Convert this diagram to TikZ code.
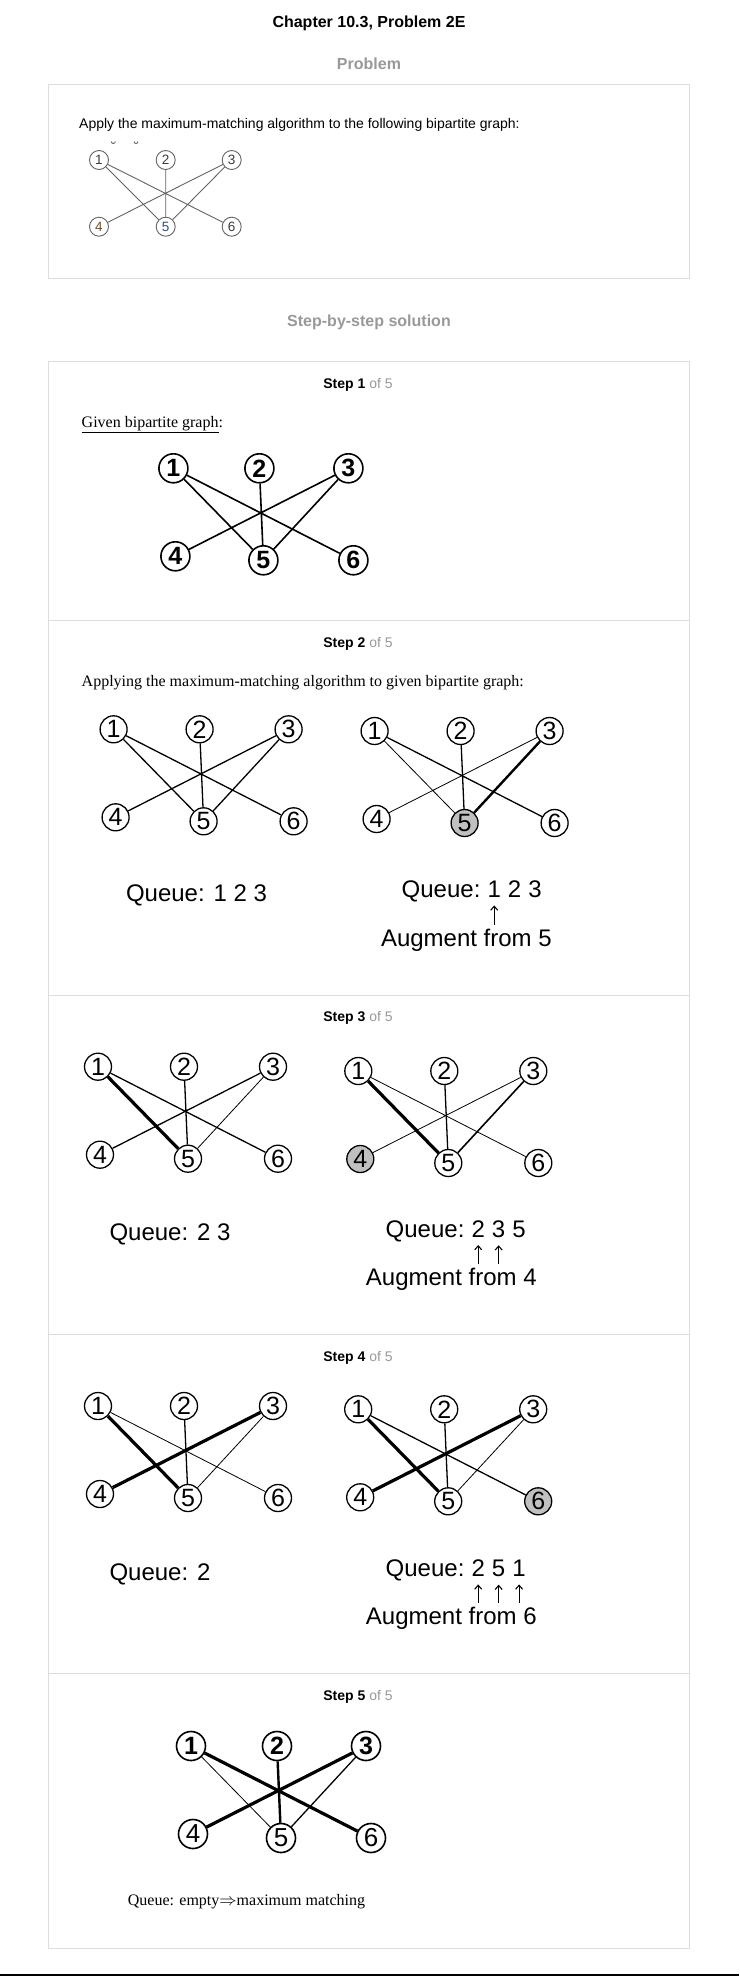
\documentclass[tikz,border=0pt]{standalone}
\usepackage{fontspec}
\setmainfont{Liberation Serif}
\setsansfont{Liberation Sans}
\usepackage{tikz}
\usetikzlibrary{positioning, arrows.meta, calc}

\definecolor{framegray}{RGB}{221,221,221}
\definecolor{headgray}{RGB}{153,153,153}
\definecolor{markgray}{RGB}{192,192,192}
\definecolor{edgegray}{RGB}{100,100,100}
\definecolor{numgray}{RGB}{60,60,60}
\definecolor{numbrown}{RGB}{110,80,40}
\definecolor{numblue}{RGB}{40,80,130}

% six vertices of one graph: top row 1 2 3, bottom row 4 5 6
% #1 prefix, #2 #3 position of vertex 1, #4 top style, #5 bottom style, #6 grey vertex
\newcommand{\placegraph}[6]{%
	\foreach \n/\dx/\dy in {1/0/0, 2/86/0, 3/175/0, 4/2/88, 5/90/92, 6/180/92}{%
		\ifnum\n<4 \tikzset{vstyle/.style={#4}}\else\tikzset{vstyle/.style={#5}}\fi
		\ifnum\n=#6 \tikzset{vmark/.style={fill=markgray}}\else\tikzset{vmark/.style={fill=white}}\fi
		\node[vstyle, vmark] (#1_\n) at (#2+\dx,#3+\dy) {\n};
	}%
}

\begin{document}
\begin{tikzpicture}[
				x=1pt, y=-1pt,
				node distance=6.7pt,
				% --- STYLES ---
				frame/.style={draw=framegray, line width=1.2pt},
				heading/.style={font=\sffamily\bfseries\fontsize{16}{19}\selectfont, anchor=base, inner sep=0pt},
				stephead/.style={font=\sffamily\fontsize{14}{17}\selectfont, anchor=base, inner sep=0pt},
				bodytext/.style={font=\rmfamily\fontsize{16}{19}\selectfont, anchor=base west, inner sep=0pt},
				queue/.style={font=\sffamily\fontsize{24}{28}\selectfont, inner sep=0pt},
				smallvtx/.style={circle, draw=edgegray, line width=0.9pt, inner sep=0pt, minimum size=19pt, font=\sffamily\fontsize{13.5}{13.5}\selectfont},
				vtx/.style={circle, draw, fill=white, line width=1.3pt, inner sep=0pt, minimum size=27pt, font=\sffamily\fontsize{25}{25}\selectfont},
				boldvtx/.style={vtx, minimum size=29pt, line width=1.6pt, font=\sffamily\bfseries\fontsize{25}{25}\selectfont},
				plainvtx/.style={vtx, minimum size=29pt, line width=1.6pt, font=\sffamily\fontsize{26}{26}\selectfont},
				thinedge/.style={line width=0.8pt},
				midedge/.style={line width=1.3pt},
				stdedge/.style={line width=1.6pt},
				boldedge/.style={line width=2.4pt},
				heavyedge/.style={line width=3.2pt},
				uparrow/.style={-{Straight Barb[length=4pt, width=7pt]}, line width=1.1pt, shorten <=3.8pt, shorten >=7.5pt}
				]
				
				\fill[white] (0,0) rectangle (739,1976);
				\useasboundingbox (0,0) rectangle (739,1976);
				
				% ==========================================
				% 1. Header and problem
				% ==========================================
				\node[heading] (title) at (369,27.7) {Chapter 10.3, Problem 2E};
				\node[heading, text=headgray] (prob_head) at (369,69) {Problem};
				\draw[frame] (48.5,84.3) rectangle (689.5,278.3);
				\node[font=\sffamily\fontsize{14}{17}\selectfont, anchor=base west, inner sep=0pt] (prob_text) at (79,128) {Apply the maximum-matching algorithm to the following bipartite graph:};
				\draw[edgegray, line width=0.9pt] (111.3,141.5) arc[start angle=180, end angle=0, radius=2];
				\draw[edgegray, line width=0.9pt] (134,141.5) arc[start angle=180, end angle=0, radius=2];
				
				\foreach \n/\x/\y/\c in {1/99/160/numgray, 2/165.7/160/numgray, 3/231.7/160/numgray, 4/99/226.7/numbrown, 5/165.7/226.7/numblue, 6/231.7/226.7/numgray}
					\node[smallvtx, text=\c] (pg_\n) at (\x,\y) {\n};
				\draw[edgegray, line width=0.9pt] (pg_1) -- (pg_5) (pg_1) -- (pg_6) (pg_2) -- (pg_5) (pg_3) -- (pg_4) (pg_3) -- (pg_5);
				
				% ==========================================
				% 2. Solution frame and step headers
				% ==========================================
				\node[heading, text=headgray] (sol_head) at (369,326) {Step-by-step solution};
				\draw[frame] (48.5,361.7) rectangle (689.5,1948.3);
				\foreach \y in {620.7, 995.7, 1334.3, 1673.3}
					\draw[frame] (48.5,\y) -- (689.5,\y);
				\foreach \s/\y in {1/388.3, 2/647.3, 3/1021.7, 4/1361, 5/1700}
					\node[stephead] (step\s_head) at (358,\y) {\textbf{Step \s} \textcolor{headgray}{of 5}};
				
				% --- Step 1 ---
				\node[bodytext] (given_text) at (81.5,427.7) {\underline{Given bipartite graph}:};
				\placegraph{s1}{173.4}{468.3}{boldvtx}{boldvtx}{0}
				\draw[stdedge] (s1_1) -- (s1_5) (s1_1) -- (s1_6) (s1_2) -- (s1_5) (s1_3) -- (s1_4) (s1_3) -- (s1_5);
				
				% --- Step 2 ---
				\node[bodytext] (apply_text) at (81.5,686.7) {Applying the maximum-matching algorithm to given bipartite graph:};
				\placegraph{s2l}{113.6}{729.3}{vtx}{vtx}{0}
				\draw[midedge] (s2l_1) -- (s2l_5) (s2l_1) -- (s2l_6) (s2l_2) -- (s2l_5) (s2l_3) -- (s2l_4) (s2l_3) -- (s2l_5);
				\placegraph{s2r}{374.6}{731}{vtx}{vtx}{5}
				\draw[thinedge] (s2r_1) -- (s2r_5) (s2r_3) -- (s2r_4);
				\draw[midedge] (s2r_1) -- (s2r_6) (s2r_2) -- (s2r_5);
				\draw[boldedge] (s2r_3) -- (s2r_5);
				
				\node[queue, anchor=base west] (q2l) at (125.8,901.7) {Queue: 1 2 3};
				\node[queue, anchor=base west] (q2r) at (401.5,897.7) {Queue:};
				\node[queue, base right=of q2r] (q2r_1) {1};
				\node[queue, base right=of q2r_1] (q2r_2) {2};
				\node[queue, base right=of q2r_2] (q2r_3) {3};
				\node[queue, anchor=base west] (aug2) at (380.8,946) {Augment from 5};
				\draw[uparrow] (aug2.north -| q2r_1) -- (q2r_1.south);
				
				% --- Step 3 ---
				\placegraph{s3l}{98}{1066.7}{vtx}{vtx}{0}
				\draw[thinedge] (s3l_3) -- (s3l_5);
				\draw[midedge] (s3l_1) -- (s3l_6) (s3l_2) -- (s3l_5) (s3l_3) -- (s3l_4);
				\draw[heavyedge] (s3l_1) -- (s3l_5);
				\placegraph{s3r}{358.3}{1071}{vtx}{vtx}{4}
				\draw[thinedge] (s3r_1) -- (s3r_6) (s3r_3) -- (s3r_4);
				\draw[midedge] (s3r_2) -- (s3r_5);
				\draw[stdedge] (s3r_3) -- (s3r_5);
				\draw[heavyedge] (s3r_1) -- (s3r_5);
				
				\node[queue, anchor=base west] (q3l) at (109.3,1240.7) {Queue: 2 3};
				\node[queue, anchor=base west] (q3r) at (385.5,1237.3) {Queue:};
				\node[queue, base right=of q3r] (q3r_1) {2};
				\node[queue, base right=of q3r_1] (q3r_2) {3};
				\node[queue, base right=of q3r_2] (q3r_3) {5};
				\node[queue, anchor=base west] (aug3) at (365.7,1285) {Augment from 4};
				\draw[uparrow] (aug3.north -| q3r_1) -- (q3r_1.south);
				\draw[uparrow] (aug3.north -| q3r_2) -- (q3r_2.south);
				
				% --- Step 4 ---
				\placegraph{s4l}{98}{1406}{vtx}{vtx}{0}
				\draw[thinedge] (s4l_1) -- (s4l_6) (s4l_3) -- (s4l_5);
				\draw[midedge] (s4l_2) -- (s4l_5);
				\draw[heavyedge] (s4l_1) -- (s4l_5) (s4l_3) -- (s4l_4);
				\placegraph{s4r}{358.2}{1409.3}{vtx}{vtx}{6}
				\draw[thinedge] (s4r_3) -- (s4r_5);
				\draw[midedge] (s4r_1) -- (s4r_6) (s4r_2) -- (s4r_5);
				\draw[heavyedge] (s4r_1) -- (s4r_5) (s4r_3) -- (s4r_4);
				
				\node[queue, anchor=base west] (q4l) at (109.3,1580) {Queue: 2};
				\node[queue, anchor=base west] (q4r) at (385.5,1576.7) {Queue:};
				\node[queue, base right=of q4r] (q4r_1) {2};
				\node[queue, base right=of q4r_1] (q4r_2) {5};
				\node[queue, base right=of q4r_2] (q4r_3) {1};
				\node[queue, anchor=base west] (aug4) at (365.7,1624) {Augment from 6};
				\foreach \k in {1,2,3}
					\draw[uparrow] (aug4.north -| q4r_\k) -- (q4r_\k.south);
				
				% --- Step 5 ---
				\placegraph{s5}{191}{1746}{boldvtx}{plainvtx}{0}
				\draw[thinedge] (s5_1) -- (s5_5);
				\draw[midedge] (s5_3) -- (s5_5);
				\draw[boldedge] (s5_2) -- (s5_5);
				\draw[heavyedge] (s5_1) -- (s5_6) (s5_3) -- (s5_4);
				\node[bodytext] (final_text) at (127.7,1905) {Queue: empty$\Rightarrow$maximum matching};
				
				\draw[line width=1.5pt] (0,1975.2) -- (739,1975.2);
			\end{tikzpicture}
\end{document}
